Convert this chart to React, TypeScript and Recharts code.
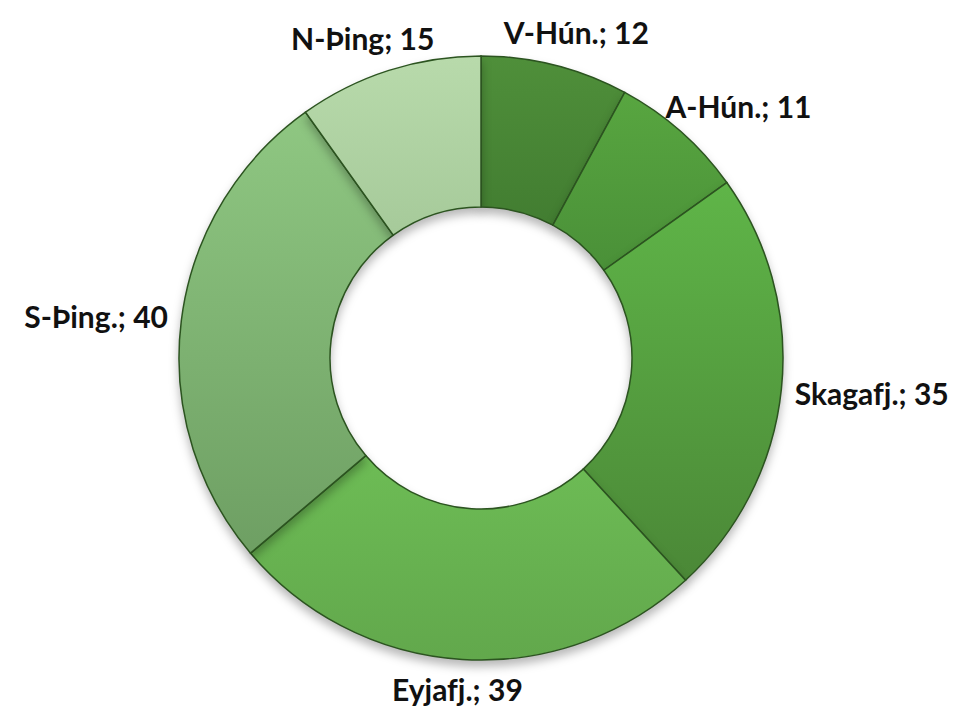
import React from 'react';
import { PieChart, Pie, Cell } from 'recharts';

const categories = ['V-Hún.', 'A-Hún.', 'Skagafj.', 'Eyjafj.', 'S-Þing.', 'N-Þing'];
const values = [12, 11, 35, 39, 40, 15];
const topColors = ['#4f8f3a', '#58a640', '#5fb548', '#6dbc55', '#8fc782', '#b8daab'];
const bottomColors = ['#427d31', '#4a9038', '#4b8837', '#62a84c', '#6e9f63', '#a6ca9a'];

const data = categories.map((name, i) => ({ name, value: values[i] }));

const FONT = 'bold 30px Lato';
const RAD = Math.PI / 180;

let ctx: CanvasRenderingContext2D | null = null;
function measure(text: string): number {
  if (!ctx) {
    const c = document.createElement('canvas');
    ctx = c.getContext('2d');
  }
  if (!ctx) return text.length * 15;
  ctx.font = FONT;
  return ctx.measureText(text).width;
}

const renderLabel = (props: any) => {
  const { cx, cy, midAngle, outerRadius, name, value } = props;
  const text = `${name}; ${value}`;
  const w = measure(text);
  const h = 40;
  const dx = Math.cos(-midAngle * RAD);
  const dy = Math.sin(-midAngle * RAD);
  const gap = 14;
  const px = cx + (outerRadius + gap) * dx;
  const py = cy + (outerRadius + gap) * dy;
  const lx = px + (dx * w) / 2;
  const ly = py + (dy * h) / 2 - (dy > 0.9 ? 4 : 0);
  return (
    <text
      x={lx}
      y={ly}
      textAnchor="middle"
      dominantBaseline="central"
      fill="#111"
      style={{
        font: FONT,
        fontFamily: 'Lato',
        fontWeight: 700,
        fontSize: 30,
        fontVariantLigatures: 'none',
        fontFeatureSettings: '"liga" 0, "clig" 0',
      }}
    >
      {text}
    </text>
  );
};

export default function App() {
  return (
    <div style={{ position: 'absolute', left: 0, top: 0, width: 971, height: 713, background: '#fff' }}>
      <PieChart width={971} height={713} margin={{ top: 0, right: 0, bottom: 0, left: 0 }}>
        <defs>
          {categories.map((c, i) => (
            <linearGradient key={c} id={`g${i}`} x1="0" y1="0" x2="0" y2="1">
              <stop offset="0%" stopColor={topColors[i]} />
              <stop offset="100%" stopColor={bottomColors[i]} />
            </linearGradient>
          ))}
        </defs>
        <Pie
          data={data}
          dataKey="value"
          nameKey="name"
          cx={481}
          cy={358}
          innerRadius={151}
          outerRadius={302}
          startAngle={90}
          endAngle={-270}
          stroke="#2c5420"
          strokeWidth={1.5}
          label={renderLabel}
          labelLine={false}
          isAnimationActive={false}
          style={{ filter: 'drop-shadow(0px 6px 5px rgba(0,0,0,0.28))' }}
        >
          {data.map((d, i) => (
            <Cell key={d.name} fill={`url(#g${i})`} />
          ))}
        </Pie>
      </PieChart>
    </div>
  );
}
